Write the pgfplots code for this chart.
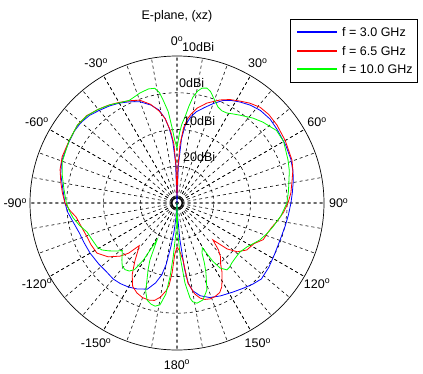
\documentclass[border=0pt]{standalone}
\usepackage{fontspec}
\setmainfont{Liberation Sans}
\usepackage{pgfplots}
\usepackage{pgfplotstable}
\usepgfplotslibrary{polar}
\pgfplotsset{compat=1.18}

% theta: compass angle (deg, 0 = top, clockwise), db: gain in dBi
\pgfplotstableread{
theta db
-180 -30
-176 -26
-174 -22
-172 -18
-170 -13
-168 -10
-165 -7.5
-161 -5.2
-155 -4.2
-150 -3.6
-145 -3.2
-140 -3.0
-134 -3.2
-128 -3.0
-120 -2.7
-113 -2.5
-107 -2.2
-100 -1.2
-95 -0.2
-90 0.5
-83 1.3
-76 2.6
-70 3.4
-62 3.7
-55 4.1
-50 4.1
-45 3.7
-40 2.9
-35 2.2
-30 1.4
-25 0.4
-20 -0.7
-15 -2.4
-11 -4.2
-8 -6.8
-6 -9.5
-4 -13
-2 -19
0 -30
2 -20
4 -12.5
6 -8.8
9 -6.3
12 -4.6
16 -3.0
20 -1.2
24 0.5
28 1.6
32 2.4
37 3.3
42 3.9
48 4.1
54 3.8
62 3.5
69 3.2
75 2.7
80 2.1
85 1.5
90 1.0
96 0.5
102 0.1
110 -0.2
118 0.0
125 0.5
132 0.9
137 0.2
142 -0.6
148 -1.4
155 -2.1
161 -2.8
166 -4.0
170 -5.8
172 -8
173.5 -12
175.5 -20
178 -27
180 -30
}\tblA

\pgfplotstableread{
theta db
-180 -18
-177.5 -16
-176 -11
-174.5 -7.5
-173 -6
-170 -4
-167 -2.8
-164 -2.5
-160 -2.6
-156 -3.2
-152 -4.3
-148 -7
-144 -10.5
-141 -13
-138.5 -14.5
-136 -11
-133 -8.8
-128 -6.2
-122 -4.3
-116 -4.0
-110 -3.8
-104 -3.2
-98 -2.3
-94 -0.8
-90 0.5
-85 1.3
-80 2.1
-74 3.1
-68 3.7
-60 3.9
-52 4.4
-46 4.2
-40 3.3
-35 2.5
-30 1.6
-25 0.7
-20 -0.2
-15 -2.2
-11 -4.5
-8 -6.8
-5 -10.5
-3 -14
-1.5 -20
0 -28
1.5 -20
3 -14
5 -9.5
7 -7.0
9 -5.5
12 -3.6
16.7 -1.6
22.7 0.4
27 1.6
31.7 2.6
36 3.6
41 4.5
46 4.7
52 4.5
60 4.0
69.5 3.4
74 2.8
79 1.9
85 1.1
90 0.2
95 -0.9
100 -2.2
104 -3.3
108 -4.0
113 -4.5
117.8 -6.3
123.9 -7.1
129 -8.9
132.5 -11.5
135.8 -16
138.5 -13
141 -11.2
144.4 -9.6
147 -7.5
149.7 -5.7
152 -4.1
154.5 -3.0
158 -2.5
161 -2.4
164 -2.7
166.4 -3.4
169 -4.8
172.2 -8
174 -14.4
177 -17
180 -18
}\tblB

\pgfplotstableread{
theta db
-180 -30
-178 -22
-176 -15.5
-174.6 -9.8
-173 -5
-170.5 -1.9
-168 -1.3
-165.5 -1.6
-162.8 -2.4
-160.5 -4.5
-158.7 -7.5
-156.5 -10.3
-154.6 -12.8
-151.6 -18.6
-149.5 -12
-147.5 -8.5
-145 -7.4
-142 -7.0
-139 -7.3
-136 -8.4
-133 -9.6
-131 -10.3
-128.7 -9.1
-125 -7.3
-122 -5.9
-118.8 -5.2
-113 -4.8
-108 -4.3
-103 -2.8
-98 -1.4
-94 -0.6
-90 0.1
-83 1.0
-76 2.2
-70 3.2
-60 3.9
-52 4.4
-46 4.1
-40 3.3
-34 2.3
-29 1.3
-25 0.8
-22 1.1
-18.6 1.6
-14 2.0
-11 1.8
-9 0.4
-7.7 -1.7
-5.5 -5
-3.8 -9.3
-2 -13
0 -15
2 -11
3.5 -8.5
5.3 -6.5
7 -3.5
8.6 -0.8
10.5 1.0
12.3 2.0
14.6 2.3
16.7 1.7
18.8 0.5
21 -0.6
23.1 -1.6
26 -2.1
29 -2.0
32 -1.4
35.6 -0.6
41.8 1.0
46.7 2.1
53.9 3.5
60 3.5
68.8 2.4
74 1.8
78.4 1.1
84 0.5
90 -0.1
97 -1.5
104 -3.1
109 -4.2
114 -5.3
118 -6.5
122 -7.5
128 -8.3
133 -8.2
137.5 -7.9
141 -7.4
143.3 -7.3
146.5 -8.8
148.5 -11.5
150.5 -16
153.4 -14.8
155.5 -12
157.5 -9.4
161 -5
165 -2.7
168.7 -2.2
171 -2.8
172.2 -3.9
174.3 -8.1
176.5 -15
178.5 -22
180 -30
}\tblC

\definecolor{mblue}{RGB}{0,0,255}
\definecolor{mred}{RGB}{255,0,0}
\definecolor{mgreen}{RGB}{0,255,0}

\begin{document}
\fontsize{12.5}{15}\selectfont
\begin{tikzpicture}[x=1pt,y=1pt]
\useasboundingbox (0,0) rectangle (423,373);
% legend frame and sample lines
\draw[black, line width=0.6pt, fill=white] (290,291) rectangle (417,354);
\draw[mblue, line width=1.3pt] (297,341) -- (337,341);
\draw[mred, line width=1.3pt] (297,322) -- (337,322);
\draw[mgreen, line width=1.3pt] (297,304) -- (337,304);
\begin{polaraxis}[
  at={(177pt,170pt)}, anchor=center,
  width=294pt, height=294pt, scale only axis,
  xmin=0, xmax=360, ymin=0, ymax=40,
  xtick={0,30,...,330}, minor xtick={0,10,...,350},
  ytick={10,20,30},
  xticklabels={}, yticklabels={},
  grid=both,
  major grid style={black, line width=0.6pt, dash pattern=on 3pt off 3pt, dash phase=1.5pt},
  minor grid style={black, line width=0.6pt, dash pattern=on 3pt off 3pt, dash phase=1.5pt},
  axis line style={black, line width=0.7pt},
  y axis line style={draw=none},
  tick style={draw=none},
  clip=false,
]
\addplot[mblue, line width=0.8pt, no marks] table[x expr={90-\thisrow{theta}}, y expr={\thisrow{db}+30}] {\tblA};
\addplot[mred, line width=0.8pt, no marks] table[x expr={90-\thisrow{theta}}, y expr={\thisrow{db}+30}] {\tblB};
\addplot[mgreen, line width=0.8pt, no marks] table[x expr={90-\thisrow{theta}}, y expr={\thisrow{db}+30}] {\tblC};

\node at (axis cs:90,44) {0\textsuperscript{o}};
\node at (axis cs:60,44) {30\textsuperscript{o}};
\node at (axis cs:30,44) {60\textsuperscript{o}};
\node at (axis cs:0,44) {90\textsuperscript{o}};
\node at (axis cs:-30,44) {120\textsuperscript{o}};
\node at (axis cs:-60,44) {150\textsuperscript{o}};
\node at (axis cs:-90,44) {180\textsuperscript{o}};
\node at (axis cs:240,44) {-150\textsuperscript{o}};
\node at (axis cs:210,44) {-120\textsuperscript{o}};
\node at (axis cs:180,44) {-90\textsuperscript{o}};
\node at (axis cs:150,44) {-60\textsuperscript{o}};
\node at (axis cs:120,44) {-30\textsuperscript{o}};

\node[anchor=south west, inner sep=0pt, xshift=5pt, yshift=4.5pt] at (axis cs:90,40) {10dBi};
\node[anchor=south west, inner sep=0pt, xshift=2pt, yshift=4.5pt] at (axis cs:90,30) {0dBi};
\node[anchor=south west, inner sep=0pt, xshift=6pt, yshift=4pt] at (axis cs:90,20) {10dBi};
\node[anchor=south west, inner sep=0pt, xshift=6pt, yshift=4pt] at (axis cs:90,10) {20dBi};
\end{polaraxis}
\node at (177,357) {E-plane, (xz)};
\node[anchor=west, inner sep=0pt] at (342,341) {f = 3.0 GHz};
\node[anchor=west, inner sep=0pt] at (342,322) {f = 6.5 GHz};
\node[anchor=west, inner sep=0pt] at (342,304) {f = 10.0 GHz};
\end{tikzpicture}
\end{document}
